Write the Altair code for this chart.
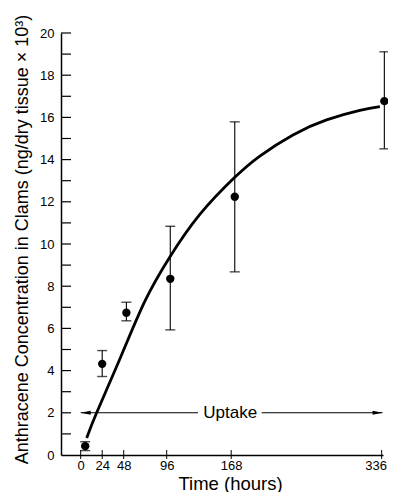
import altair as alt
import pandas as pd

# measured data (time in hours, concentration in ng/dry tissue x 10^3)
time_h = [5, 24, 51, 100, 172, 339]
conc = [0.42, 4.32, 6.74, 8.35, 12.24, 16.77]
err_hi = [0.63, 4.95, 7.24, 10.84, 15.79, 19.11]
err_lo = [0.21, 3.72, 6.36, 5.93, 8.68, 14.51]

# fitted uptake curve
curve_t = [6.7, 17.8, 45, 71.8, 99, 133, 172, 200, 237, 274.5, 311.7, 334]
curve_v = [0.81, 2.0, 4.68, 7.3, 9.35, 11.4, 13.16, 14.17, 15.17, 15.88, 16.33, 16.51]

# axis ticks
x_ticks = [0, 24, 48, 96, 168, 336]
y_labels = [0, 2, 4, 6, 8, 10, 12, 14, 16, 18, 20]
y_ticks = [1, 2, 3, 4, 5, 6, 7, 8, 9, 10, 11, 12, 13, 14, 15, 16, 17, 18, 19, 20]

# "Uptake" arrow annotation
arrow_level = [2, 2]
arrow_left = [0, 131]
arrow_right = [202, 337]
uptake_label = ["Uptake"]
uptake_t = [167]

W, H = 322, 422
FONT = "Liberation Sans"

xs = alt.Scale(domain=[-22, 337.5], nice=False, zero=False)
ys = alt.Scale(domain=[0, 20], nice=False, zero=False)

pts = pd.DataFrame({"t": time_h, "c": conc, "hi": err_hi, "lo": err_lo})
curve = pd.DataFrame({"t": curve_t, "v": curve_v})

base_x = alt.X("t:Q", scale=xs, axis=alt.Axis(
    values=x_ticks, ticks=False, grid=False, labelPadding=4,
    labelFontSize=13, labelFont=FONT, labelColor="black",
    labelOffset={"condition": {"test": "datum.value == 336", "value": -6}, "value": 0},
    domainColor="black", domainWidth=1.5,
    title="Time (hours)", titleFontSize=18.5, titleFont=FONT,
    titleFontWeight="normal", titleColor="black", titlePadding=2,
    titleX=169, titleAlign="center"))
base_y = alt.Y("c:Q", scale=ys, axis=alt.Axis(
    values=y_labels, ticks=False, grid=False, labelPadding=7,
    labelFontSize=13, labelFont=FONT, labelColor="black",
    domainColor="black", domainWidth=1.5,
    title="Anthracene Concentration in Clams (ng/dry tissue \u00d7 10\u00b3)",
    titleFontSize=18, titleFont=FONT, titleFontWeight="normal",
    titleColor="black", titleY=206, titleX=-30, titleAlign="center"))

points = alt.Chart(pts).mark_circle(size=70, color="black", opacity=1).encode(
    x=base_x, y=base_y)

bars = alt.Chart(pts).mark_rule(color="black", strokeWidth=1.1).encode(
    x=alt.X("t:Q", scale=xs), y=alt.Y("lo:Q", scale=ys), y2="hi:Q")
cap_hi = alt.Chart(pts).mark_tick(color="black", orient="horizontal", size=10, thickness=1.4).encode(
    x=alt.X("t:Q", scale=xs), y=alt.Y("hi:Q", scale=ys))
cap_lo = alt.Chart(pts).mark_tick(color="black", orient="horizontal", size=10, thickness=1.4).encode(
    x=alt.X("t:Q", scale=xs), y=alt.Y("lo:Q", scale=ys))

line = alt.Chart(curve).mark_line(color="black", strokeWidth=2.8, interpolate="natural").encode(
    x=alt.X("t:Q", scale=xs), y=alt.Y("v:Q", scale=ys))

yt = alt.Chart(pd.DataFrame({"v": y_ticks})).mark_rule(color="black", strokeWidth=1.2).encode(
    y=alt.Y("v:Q", scale=ys), x=alt.value(0), x2=alt.value(10))
xt = alt.Chart(pd.DataFrame({"t": x_ticks})).mark_rule(color="black", strokeWidth=1).encode(
    x=alt.X("t:Q", scale=xs), y=alt.value(H - 5), y2=alt.value(H + 4))

seg_l = alt.Chart(pd.DataFrame({"a": [arrow_left[0]], "b": [arrow_left[1]], "v": [arrow_level[0]]})).mark_rule(
    color="black", strokeWidth=1.1).encode(x=alt.X("a:Q", scale=xs), x2="b:Q", y=alt.Y("v:Q", scale=ys))
seg_r = alt.Chart(pd.DataFrame({"a": [arrow_right[0]], "b": [arrow_right[1]], "v": [arrow_level[1]]})).mark_rule(
    color="black", strokeWidth=1.1).encode(x=alt.X("a:Q", scale=xs), x2="b:Q", y=alt.Y("v:Q", scale=ys))
head_l = alt.Chart(pd.DataFrame({"a": [arrow_left[0]], "v": [arrow_level[0]]})).mark_point(
    shape="M0,0L2,-0.4L2,0.4Z", size=100, filled=True, color="black", opacity=1).encode(
    x=alt.X("a:Q", scale=xs), y=alt.Y("v:Q", scale=ys))
head_r = alt.Chart(pd.DataFrame({"a": [arrow_right[1]], "v": [arrow_level[1]]})).mark_point(
    shape="M0,0L-2,-0.4L-2,0.4Z", size=100, filled=True, color="black", opacity=1).encode(
    x=alt.X("a:Q", scale=xs), y=alt.Y("v:Q", scale=ys))
label = alt.Chart(pd.DataFrame({"s": uptake_label, "t": uptake_t, "v": [arrow_level[0]]})).mark_text(
    fontSize=17, font=FONT, color="black", align="center", baseline="middle").encode(
    x=alt.X("t:Q", scale=xs), y=alt.Y("v:Q", scale=ys), text="s:N")

chart = alt.layer(points, bars, cap_hi, cap_lo, line, yt, xt, seg_l, seg_r, head_l, head_r, label).properties(
    width=W, height=H,
    autosize=alt.AutoSizeParams(type="none"),
    padding={"left": 53, "top": 25, "right": 5, "bottom": 37},
    background="white",
).configure_view(stroke=None)

chart.save("out.html", embed_options={"renderer": "svg", "actions": False})
